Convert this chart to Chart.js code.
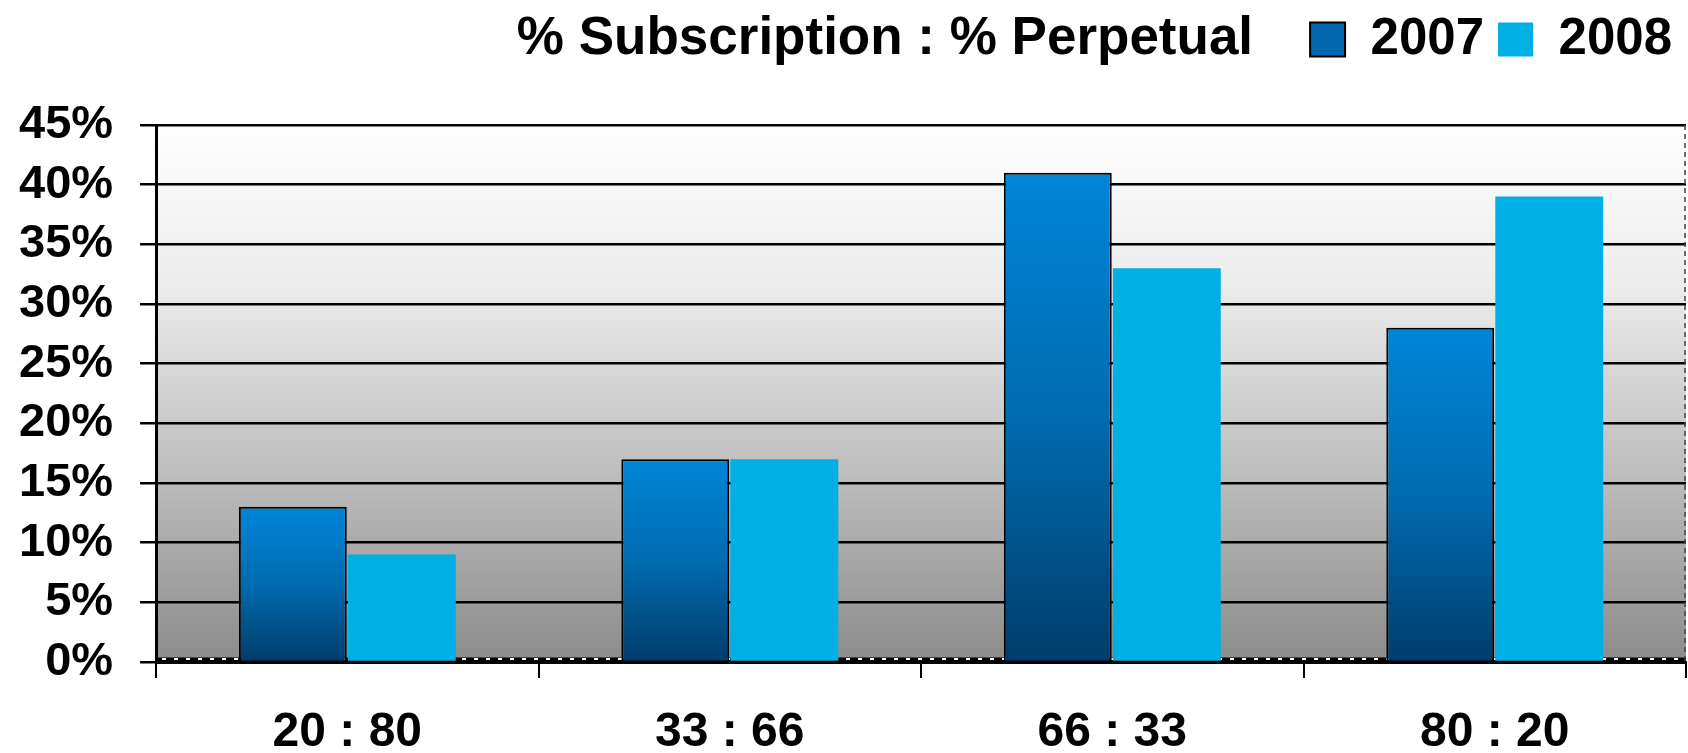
<!DOCTYPE html>
<html>
<head>
<meta charset="utf-8">
<script src="https://cdn.jsdelivr.net/npm/chart.js@4/dist/chart.umd.min.js"></script>
<style>
  html, body { margin: 0; padding: 0; background: #fff; }
  #wrap { width: 1688px; height: 753px; position: relative; }
</style>
</head>
<body>
<div id="wrap"><canvas id="chart"></canvas></div>
<script>
const categories = ["20 : 80", "33 : 66", "66 : 33", "80 : 20"];
const seriesNames = ["2007", "2008"];
const values2007 = [13, 17, 41, 28];
const values2008 = [9, 17, 33, 39];
const yTicks = [0, 5, 10, 15, 20, 25, 30, 35, 40, 45];
const chartTitle = "% Subscription : % Perpetual";

const FONT = "'Liberation Sans', Arial, sans-serif";

// 2007 bars: each bar fades from bright blue at its top to navy at its base
function barGradient(ctx) {
  const chart = ctx.chart;
  if (!chart.chartArea || ctx.type !== "data") return "#0070b8";
  const y = chart.scales.y;
  const top = y.getPixelForValue(ctx.raw);
  const base = y.getPixelForValue(0);
  const g = chart.ctx.createLinearGradient(0, top, 0, base);
  g.addColorStop(0, "#0086d9");
  g.addColorStop(0.5, "#006bb0");
  g.addColorStop(1, "#003d6b");
  return g;
}

const plotBackground = {
  id: "plotBackground",
  beforeDraw(chart) {
    const { ctx, chartArea: a } = chart;
    const g = ctx.createLinearGradient(0, a.top, 0, a.bottom);
    g.addColorStop(0, "#fefefe");
    g.addColorStop(0.3, "#ececec");
    g.addColorStop(0.6, "#c4c4c4");
    g.addColorStop(1, "#8c8c8c");
    ctx.save();
    ctx.fillStyle = g;
    ctx.fillRect(a.left, a.top, a.right - a.left, a.bottom - a.top);
    ctx.restore();
  },
  // dotted baseline and dashed right edge of the plot
  beforeDatasetsDraw(chart) {
    const { ctx, chartArea: a } = chart;
    ctx.save();
    ctx.strokeStyle = "#000";
    ctx.lineWidth = 5;
    ctx.beginPath();
    ctx.moveTo(a.left, a.bottom - 2);
    ctx.lineTo(a.right, a.bottom - 2);
    ctx.stroke();
    ctx.strokeStyle = "#fff";
    ctx.lineWidth = 2;
    ctx.setLineDash([4, 8]);
    ctx.beginPath();
    ctx.moveTo(a.left + 6, a.bottom - 3);
    ctx.lineTo(a.right, a.bottom - 3);
    ctx.stroke();
    ctx.strokeStyle = "#444";
    ctx.lineWidth = 1.5;
    ctx.setLineDash([5, 4]);
    ctx.beginPath();
    ctx.moveTo(a.right - 1, a.top);
    ctx.lineTo(a.right - 1, a.bottom);
    ctx.stroke();
    ctx.restore();
  },
};

// extra room between the legend row and the plot
const legendSpacer = {
  id: "legendSpacer",
  beforeInit(chart) {
    const fit = chart.legend.fit;
    chart.legend.fit = function () {
      fit.call(this);
      this.height += 50;
    };
  },
};

// title text sits on the same line, left of the legend items
const inlineTitle = {
  id: "inlineTitle",
  afterDraw(chart) {
    const boxes = chart.legend.legendHitBoxes;
    if (!boxes || !boxes.length) return;
    const first = boxes[0];
    const ctx = chart.ctx;
    ctx.save();
    ctx.font = "bold 53px " + FONT;
    ctx.fillStyle = "#000";
    ctx.textAlign = "right";
    ctx.textBaseline = "middle";
    ctx.fillText(chartTitle, first.left - 57, first.top + first.height / 2);
    ctx.restore();
  },
};

new Chart(document.getElementById("chart"), {
  type: "bar",
  data: {
    labels: categories,
    datasets: [
      {
        label: seriesNames[0],
        data: values2007,
        backgroundColor: barGradient,
        borderColor: "#000",
        borderWidth: 2,
        borderSkipped: "bottom",
      },
      {
        label: seriesNames[1],
        data: values2008,
        backgroundColor: "#00b0e4",
        borderWidth: 0,
      },
    ],
  },
  options: {
    responsive: true,
    maintainAspectRatio: false,
    animation: false,
    categoryPercentage: 0.57,
    barPercentage: 0.99,
    layout: { padding: { left: -8, right: 2, top: 0, bottom: -35 } },
    plugins: {
      tooltip: { enabled: false },
      legend: {
        position: "top",
        align: "end",
        labels: {
          color: "#000",
          font: { family: FONT, size: 51, weight: "bold" },
          boxWidth: 35,
          boxHeight: 34,
          padding: 14,
          generateLabels: (chart) =>
            chart.data.datasets.map((ds, i) => ({
              text: ds.label,
              fillStyle: i === 0 ? "#0067ad" : "#00b0e4",
              strokeStyle: "#000",
              lineWidth: i === 0 ? 2 : 0,
              hidden: false,
              datasetIndex: i,
            })),
        },
      },
    },
    scales: {
      x: {
        grid: {
          display: true,
          drawOnChartArea: false,
          drawTicks: true,
          tickLength: 16,
          color: "#000",
          lineWidth: 2,
        },
        border: { color: "#000", width: 3 },
        ticks: {
          color: "#000",
          padding: 31,
          font: { family: FONT, size: 48, weight: "bold", lineHeight: 1.0 },
        },
      },
      y: {
        min: yTicks[0],
        max: yTicks[yTicks.length - 1],
        afterBuildTicks: (scale) => {
          scale.ticks = yTicks.map((v) => ({ value: v }));
        },
        grid: {
          color: "#000",
          lineWidth: 2.5,
          tickLength: 16,
        },
        border: { color: "#000", width: 3 },
        ticks: {
          color: "#000",
          padding: 27,
          autoSkip: false,
          font: { family: FONT, size: 47, weight: "bold" },
          callback: (v) => v + "%",
        },
      },
    },
  },
  plugins: [plotBackground, legendSpacer, inlineTitle],
});
</script>
</body>
</html>
